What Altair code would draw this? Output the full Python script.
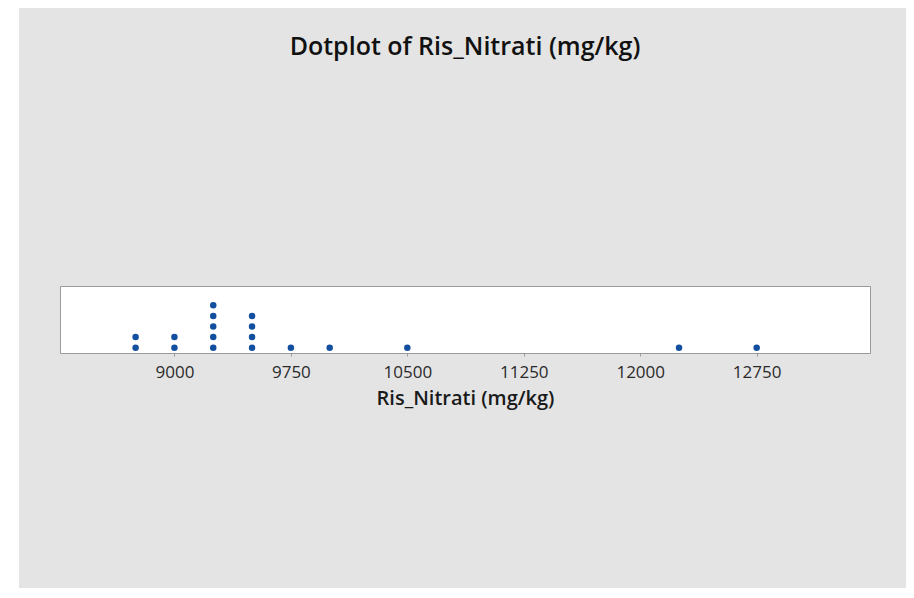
import altair as alt
import pandas as pd

# Raw observations read from the dotplot (mg/kg)
values = [8750, 8750,
          9000, 9000,
          9250, 9250, 9250, 9250, 9250,
          9500, 9500, 9500, 9500,
          9750,
          10000,
          10500,
          12250,
          12750]
tick_values = [9000, 9750, 10500, 11250, 12000, 12750]
x_domain = [8263, 13480]
y_domain = [0.5, 6.82]
title_text = ["Dotplot of Ris_Nitrati (mg/kg)"]

df = pd.DataFrame({"v": values})

FONT = "Open Sans"

dots = alt.Chart(df).transform_window(
    stack="row_number()", groupby=["v"]
).mark_circle(size=42, opacity=1, color="#124f9e").encode(
    x=alt.X("v:Q",
            scale=alt.Scale(domain=x_domain, nice=False, zero=False),
            axis=alt.Axis(values=tick_values, title="Ris_Nitrati (mg/kg)", format="d",
                          grid=False, domain=False, tickSize=3,
                          tickColor="#9a9a9a", labelPadding=8,
                          labelFontSize=17, labelFont=FONT, labelColor="#2a2a2a",
                          titleFont=FONT, titleFontSize=20, titleFontWeight=600,
                          titleColor="#1a1a1a", titlePadding=8,
                          labelFlush=False)),
    y=alt.Y("stack:Q", scale=alt.Scale(domain=y_domain, nice=False, zero=False),
            axis=None),
)

# white strip at the far left of the picture (outside the grey panel)
strip = alt.Chart(pd.DataFrame({"a": [0]})).mark_rect(color="white", clip=False).encode(
    x=alt.value(-52), x2=alt.value(-41), y=alt.value(-280), y2=alt.value(320)
)

title = alt.Chart(pd.DataFrame({"t": title_text})).mark_text(
    font=FONT, fontSize=25, fontWeight=600, color="#111111",
    align="center", baseline="alphabetic", clip=False
).encode(
    text="t:N", x=alt.value(405), y=alt.value(-231)
)

chart = alt.layer(strip, dots, title).properties(
    width=810,
    height=67,
    background="#e4e4e4",
    padding={"left": 52, "right": 36, "top": 278, "bottom": 235},
    autosize=alt.AutoSizeParams(type="none"),
).configure_view(
    fill="white", stroke="#9a9a9a", strokeWidth=1
)

chart.save("out.html", embed_options={"renderer": "svg", "actions": False})
